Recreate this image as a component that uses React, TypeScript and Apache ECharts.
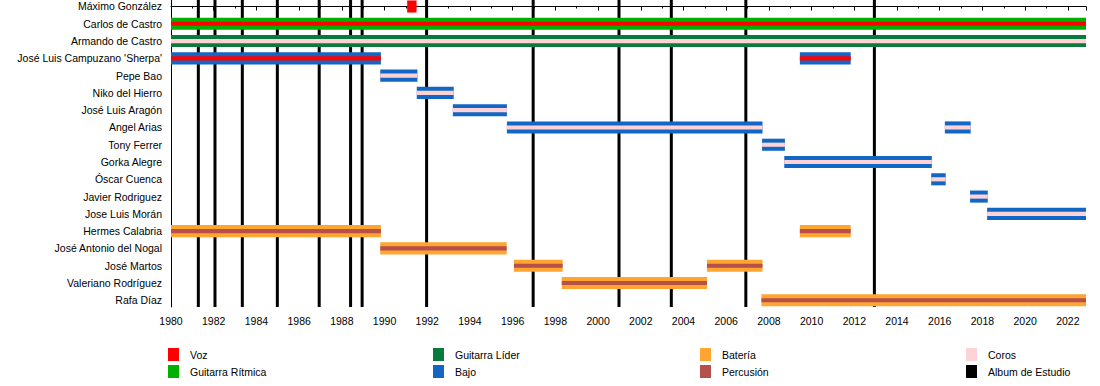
import React, { useEffect, useRef } from "react";
import * as echarts from "echarts";

const END = 2022.85;

const members = [
  "Máximo González",
  "Carlos de Castro",
  "Armando de Castro",
  "José Luis Campuzano 'Sherpa'",
  "Pepe Bao",
  "Niko del Hierro",
  "José Luis Aragón",
  "Angel Arias",
  "Tony Ferrer",
  "Gorka Alegre",
  "Óscar Cuenca",
  "Javier Rodriguez",
  "Jose Luis Morán",
  "Hermes Calabria",
  "José Antonio del Nogal",
  "José Martos",
  "Valeriano Rodríguez",
  "Rafa Díaz",
];

const roleKeys = ["voz", "ritmica", "lider", "bajo", "bateria", "percusion", "coros", "album"];
const roleLabels = ["Voz", "Guitarra Rítmica", "Guitarra Líder", "Bajo", "Batería", "Percusión", "Coros", "Album de Estudio"];
const roleColors = ["#ff0000", "#00b000", "#087a3c", "#1266c4", "#ffa530", "#b5504a", "#ffd2d6", "#000000"];

// [member index, start, end, main role, stripe role]
const periods: [number, number, number, string, string | null][] = [
  [0, 1991.06, 1991.5, "voz", null],
  [1, 1980, END, "ritmica", "voz"],
  [2, 1980, END, "lider", "coros"],
  [3, 1980, 1989.83, "bajo", "voz"],
  [3, 2009.45, 2011.83, "bajo", "voz"],
  [4, 1989.8, 1991.54, "bajo", "coros"],
  [5, 1991.51, 1993.24, "bajo", "coros"],
  [6, 1993.2, 1995.73, "bajo", "coros"],
  [7, 1995.73, 2007.7, "bajo", "coros"],
  [7, 2016.24, 2017.45, "bajo", "coros"],
  [8, 2007.68, 2008.75, "bajo", "coros"],
  [9, 2008.72, 2015.63, "bajo", "coros"],
  [10, 2015.6, 2016.28, "bajo", "coros"],
  [11, 2017.42, 2018.25, "bajo", "coros"],
  [12, 2018.22, END, "bajo", "coros"],
  [13, 1980, 1989.83, "bateria", "percusion"],
  [13, 2009.45, 2011.83, "bateria", "percusion"],
  [14, 1989.8, 1995.72, "bateria", "percusion"],
  [15, 1996.06, 1998.34, "bateria", "percusion"],
  [15, 2005.1, 2007.7, "bateria", "percusion"],
  [16, 1998.3, 2005.1, "bateria", "percusion"],
  [17, 2007.65, END, "bateria", "percusion"],
];

const albumYears = [1981.28, 1982.06, 1983.34, 1984.98, 1986.94, 1988.41, 1988.95, 1991.97, 1996.96, 2000.98, 2003.43, 2006.92, 2012.94];

const colorOf = (key: string | null) => (key ? roleColors[roleKeys.indexOf(key)] : null);

const FONT = "'Liberation Sans', Arial, Helvetica, sans-serif";

export default function App() {
  const ref = useRef<HTMLDivElement>(null);
  useEffect(() => {
    document.body.style.margin = "0";
    const chart = echarts.init(ref.current!, null, { renderer: "svg" });

    const legendGraphics: any[] = [];
    const colX = [168, 433, 700, 966];
    const rowY = [348, 365];
    roleKeys.forEach((k, i) => {
      const c = Math.floor(i / 2);
      const r = i % 2;
      legendGraphics.push({
        type: "rect",
        shape: { x: colX[c], y: rowY[r], width: 11, height: 13 },
        style: { fill: roleColors[i] },
      });
      legendGraphics.push({
        type: "text",
        x: colX[c] + 22,
        y: rowY[r] + 7,
        style: {
          text: roleLabels[i],
          fill: "#000",
          font: `10.5px ${FONT}`,
          verticalAlign: "middle",
          textVerticalAlign: "middle",
        },
      });
    });

    chart.setOption({
      animation: false,
      textStyle: { fontFamily: FONT },
      grid: { left: 171, right: 14, top: 0, height: 307 },
      xAxis: {
        type: "value",
        min: 1980,
        max: END,
        interval: 2,
        axisLine: { show: true, lineStyle: { color: "#000", width: 1 } },
        axisTick: { show: true, length: 4, lineStyle: { color: "#000" } },
        minorTick: { show: true, splitNumber: 2, length: 2, lineStyle: { color: "#000" } },
        splitLine: { show: false },
        axisLabel: {
          color: "#000",
          fontSize: 10.5,
          fontFamily: FONT,
          margin: 8,
          showMaxLabel: false,
          formatter: (v: number) => (Number.isInteger(v) ? String(v) : ""),
        },
      },
      yAxis: {
        type: "value",
        inverse: true,
        min: -0.376,
        max: 17.39,
        axisLine: { show: true, lineStyle: { color: "#000", width: 1 } },
        axisTick: { show: false },
        splitLine: { show: false },
        axisLabel: {
          customValues: members.map((_, i) => i),
          color: "#000",
          fontSize: 10.5,
          fontFamily: FONT,
          margin: 9,
          formatter: (v: number) => members[Math.round(v)] ?? "",
        },
      },
      series: [
        {
          type: "custom",
          z: 1,
          data: albumYears.map((y) => [y, 0]),
          renderItem: (params: any, api: any) => {
            const x = api.coord([api.value(0), 0])[0];
            const cs = params.coordSys;
            return {
              type: "line",
              shape: { x1: x, y1: cs.y, x2: x, y2: cs.y + cs.height },
              style: { stroke: "#000", lineWidth: 3 },
            };
          },
        },
        {
          type: "custom",
          z: 2,
          data: periods.map((p) => [p[1], p[2], p[0]]),
          encode: { x: [0, 1], y: 2 },
          renderItem: (params: any, api: any) => {
            const p = periods[params.dataIndex];
            const s = api.coord([api.value(0), api.value(2)]);
            const e = api.coord([api.value(1), api.value(2)]);
            const rowH = api.size([0, 1])[1];
            const h = rowH * 0.7;
            const sh = rowH * 0.24;
            const children: any[] = [
              {
                type: "rect",
                shape: { x: s[0], y: s[1] - h / 2, width: e[0] - s[0], height: h },
                style: { fill: colorOf(p[3]) },
              },
            ];
            const stripe = colorOf(p[4]);
            if (stripe) {
              children.push({
                type: "rect",
                shape: { x: s[0], y: s[1] - sh / 2, width: e[0] - s[0], height: sh },
                style: { fill: stripe },
              });
            }
            return { type: "group", children };
          },
        },
      ],
      graphic: legendGraphics,
    });
    return () => chart.dispose();
  }, []);
  return <div ref={ref} style={{ width: 1100, height: 386 }} />;
}
